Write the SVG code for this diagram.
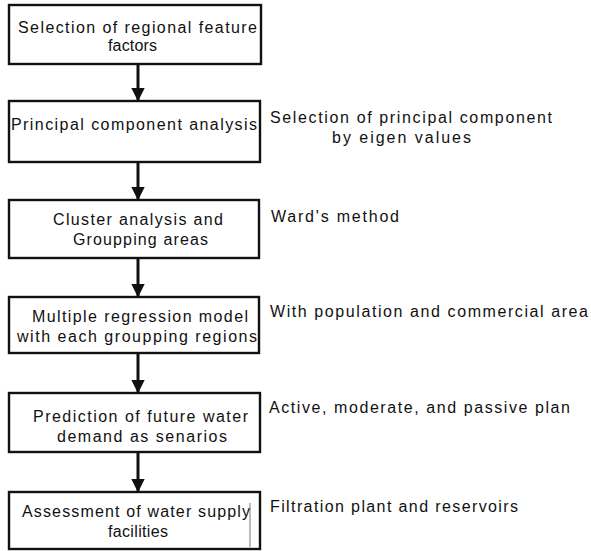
<svg xmlns="http://www.w3.org/2000/svg" width="591" height="551" viewBox="0 0 591 551">
<defs>
<style>
.box{fill:#fff;stroke:#111;stroke-width:2.4}
.t{font-family:"Liberation Sans",Arial,sans-serif;font-size:16px;fill:#111}
.c{stroke:#111;stroke-width:3;fill:none}
</style>
<marker id="ah" viewBox="0 0 10 10" refX="9" refY="5" markerWidth="4.5" markerHeight="4.5" orient="auto" markerUnits="strokeWidth">
<path d="M0,0 L10,5 L0,10 Z" fill="#111"/>
</marker>
</defs>
<rect width="591" height="551" fill="#fff"/>
<g id="connectors">
<line class="c" x1="138" y1="64" x2="138" y2="100" marker-end="url(#ah)"/>
<line class="c" x1="138" y1="162" x2="138" y2="199" marker-end="url(#ah)"/>
<line class="c" x1="138" y1="258" x2="138" y2="296" marker-end="url(#ah)"/>
<line class="c" x1="138" y1="353" x2="138" y2="392" marker-end="url(#ah)"/>
<line class="c" x1="138" y1="452" x2="138" y2="491" marker-end="url(#ah)"/>
</g>
<g id="n1">
<rect class="box" x="9" y="5" width="252" height="59"/>
<text class="t" x="18" y="33" textLength="239" lengthAdjust="spacing">Selection of regional feature</text>
<text class="t" x="108" y="51" textLength="49" lengthAdjust="spacing">factors</text>
</g>
<g id="n2">
<rect class="box" x="9" y="101" width="251" height="61"/>
<text class="t" x="11" y="130" textLength="246" lengthAdjust="spacing">Principal component analysis</text>
</g>
<g id="n3">
<rect class="box" x="9" y="200" width="250" height="58"/>
<text class="t" x="53" y="225" textLength="170" lengthAdjust="spacing">Cluster analysis and</text>
<text class="t" x="73" y="245" textLength="135" lengthAdjust="spacing">Groupping areas</text>
</g>
<g id="n4">
<rect class="box" x="9" y="297" width="250" height="56"/>
<text class="t" x="32" y="322" textLength="216" lengthAdjust="spacing">Multiple regression model</text>
<text class="t" x="17" y="342" textLength="240" lengthAdjust="spacing">with each groupping regions</text>
</g>
<g id="n5">
<rect class="box" x="9" y="393" width="251" height="59"/>
<text class="t" x="33" y="422" textLength="215" lengthAdjust="spacing">Prediction of future water</text>
<text class="t" x="57" y="442" textLength="170" lengthAdjust="spacing">demand as senarios</text>
</g>
<g id="n6">
<rect class="box" x="9" y="492" width="251" height="57"/>
<text class="t" x="22" y="517" textLength="228" lengthAdjust="spacing">Assessment of water supply</text>
<text class="t" x="108" y="537" textLength="60" lengthAdjust="spacing">facilities</text>
<line x1="250" y1="503" x2="250" y2="547" stroke="#555" stroke-width="0.8"/>
</g>
<g id="notes">
<text class="t" x="270" y="123" textLength="282" lengthAdjust="spacing">Selection of principal component</text>
<text class="t" x="332" y="143" textLength="139" lengthAdjust="spacing">by eigen values</text>
<text class="t" x="271" y="222" textLength="128" lengthAdjust="spacing">Ward's method</text>
<text class="t" x="270" y="317" textLength="318" lengthAdjust="spacing">With population and commercial area</text>
<text class="t" x="269" y="413" textLength="301" lengthAdjust="spacing">Active, moderate, and passive plan</text>
<text class="t" x="270" y="512" textLength="248" lengthAdjust="spacing">Filtration plant and reservoirs</text>
</g>
</svg>
